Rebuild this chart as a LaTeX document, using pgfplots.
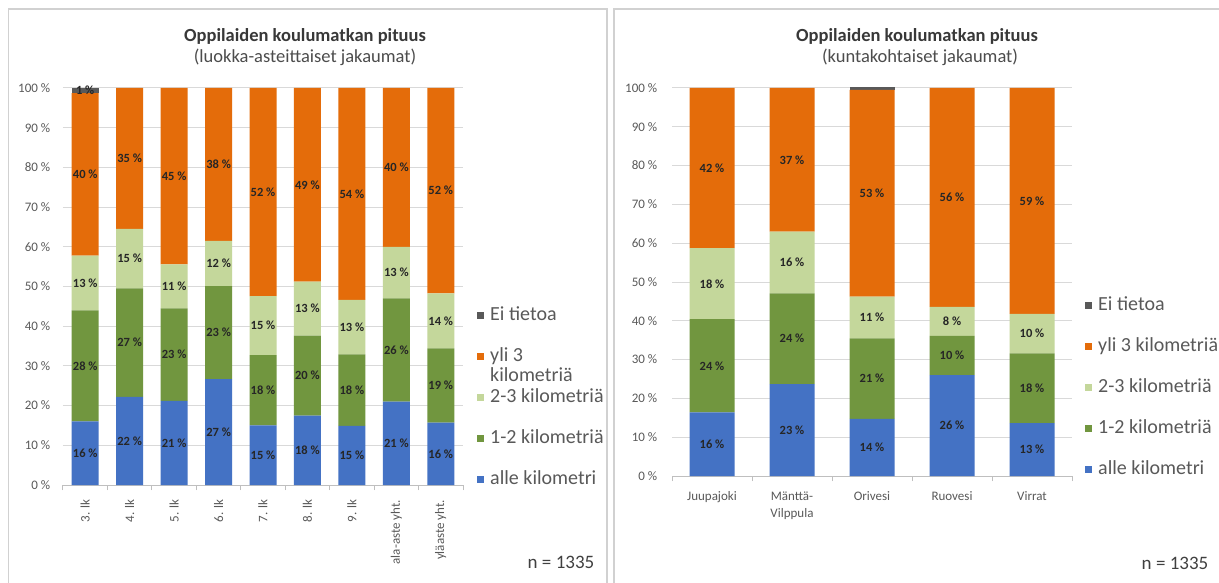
\documentclass[border=0pt]{standalone}
\usepackage{pgfplots}
\pgfplotsset{compat=1.18}
\usepackage{fontspec}
\setmainfont{Carlito}
\definecolor{cblue}{HTML}{4472C4}
\definecolor{cgreen}{HTML}{71963F}
\definecolor{clight}{HTML}{C4D79B}
\definecolor{corange}{HTML}{E46C0A}
\definecolor{cgray}{HTML}{595959}
\definecolor{ctext}{HTML}{595959}
\definecolor{cgrid}{HTML}{D9D9D9}
\def\zeroval{0}
\pgfplotsset{
  common/.style={
    scale only axis,
    ybar stacked,
    ymin=0, ymax=100,
    ytick={0,10,...,100},
    yticklabel={\pgfmathprintnumber{\tick}~\%},
    /pgf/number format/assume math mode=true,
    ymajorgrids, grid style={cgrid, line width=1pt},
    axis x line*=bottom, axis y line*=left,
    y axis line style={draw=none},
    x axis line style={draw=black!25, line width=1pt},
    ytick style={draw=none},
    xtick style={draw=none},
    minor x tick style={draw=black!25, line width=1pt},
    tick align=outside, minor tick length=5pt,
    ticklabel style={font=\fontsize{13}{16}\selectfont, text=ctext},
    xtick=data,
    point meta=explicit symbolic,
    nodes near coords={\ifx\pgfplotspointmeta\zeroval\else\pgfplotspointmeta~\%\fi},
    every node near coord/.append style={font=\bfseries\fontsize{12.5}{14}\selectfont, text=black!85, anchor=center},
    legend cell align=left,
    reverse legend,
    legend style={draw=none, fill=none, inner sep=0pt,
      font=\fontsize{20}{24}\selectfont, text=ctext,
      nodes={inner sep=0pt, text height=14pt, text depth=4pt},
      row sep=23pt,
      /tikz/every odd column/.style={column sep=6pt}},
    legend image code/.code={\path[#1] (0pt,-3.5pt) rectangle (7pt,3.5pt);},
  },
  sA/.style={fill=cblue, draw=none},
  sB/.style={fill=cgreen, draw=none},
  sC/.style={fill=clight, draw=none},
  sD/.style={fill=corange, draw=none},
  sE/.style={fill=cgray, draw=none},
}
\begin{document}
\begin{tikzpicture}[x=1pt,y=1pt]
\useasboundingbox (0,0) rectangle (1219,582);
\fill[white] (0,0) rectangle (1219,582);
% panel frames
\draw[black!18, line width=1.2pt] (8.5,-2) -- (8.5,573) -- (607,573) -- (607,-2);
\draw[black!18, line width=1.2pt] (614,-2) -- (614,573) -- (1222,573);
% titles
\node[font=\bfseries\fontsize{18.5}{22}\selectfont, text=black!78] at (305,546) {Oppilaiden koulumatkan pituus};
\node[font=\fontsize{18.5}{22}\selectfont, text=black!70] at (305,525) {(luokka-asteittaiset jakaumat)};
\node[font=\bfseries\fontsize{18.5}{22}\selectfont, text=black!78] at (917,546) {Oppilaiden koulumatkan pituus};
\node[font=\fontsize{18.5}{22}\selectfont, text=black!70] at (920,525) {(kuntakohtaiset jakaumat)};
\node[font=\fontsize{19}{22}\selectfont, text=black!75] at (561,20) {n = 1335};
\node[font=\fontsize{19}{22}\selectfont, text=black!75] at (1175,19) {n = 1335};

\begin{axis}[common,
  at={(63pt,97pt)}, anchor=south west,
  width=400pt, height=397pt,
  xmin=-0.5, xmax=8.5,
  bar width=27pt,
  minor xtick={-0.5,0.5,...,8.5},
  xticklabels={3. lk, 4. lk, 5. lk, 6. lk, 7. lk, 8. lk, 9. lk, ala-aste yht., yläaste yht.},
  xticklabel style={rotate=90, anchor=east},
  xticklabel shift=7pt,
  yticklabel shift=5pt,
  legend style={at={(1.035,0.451)}, anchor=north west},
]
\addplot+[sA] coordinates {(0,16)[16] (1,22.2)[22] (2,21.2)[21] (3,26.7)[27] (4,15)[15] (5,17.5)[18] (6,14.9)[15] (7,21)[21] (8,15.7)[16]};
\addlegendentry{alle kilometri}
\addplot+[sB] coordinates {(0,28)[28] (1,27.3)[27] (2,23.3)[23] (3,23.4)[23] (4,17.7)[18] (5,20.1)[20] (6,18)[18] (7,26)[26] (8,18.7)[19]};
\addlegendentry{1-2 kilometriä}
\addplot+[sC] coordinates {(0,13.8)[13] (1,15)[15] (2,11.1)[11] (3,11.4)[12] (4,14.9)[15] (5,13.6)[13] (6,13.7)[13] (7,13)[13] (8,13.9)[14]};
\addlegendentry{2-3 kilometriä}
\addplot+[sD] coordinates {(0,40.9)[40] (1,35.5)[35] (2,44.4)[45] (3,38.5)[38] (4,52.4)[52] (5,48.8)[49] (6,53.4)[54] (7,40)[40] (8,51.7)[52]};
\addlegendentry{\smash{\renewcommand\arraystretch{0.85}\begin{tabular}[t]{@{}l@{}}yli 3\\kilometriä\end{tabular}}}
\addplot+[sE] coordinates {(0,1.3)[1] (1,0)[0] (2,0)[0] (3,0)[0] (4,0)[0] (5,0)[0] (6,0)[0] (7,0)[0] (8,0)[0]};
\addlegendentry{Ei tietoa}
\end{axis}

\begin{axis}[common,
  at={(672pt,106pt)}, anchor=south west,
  width=400pt, height=388pt,
  xmin=-0.5, xmax=4.5,
  bar width=45pt,
  minor xtick={-0.5,0.5,...,4.5},
  xticklabels={Juupajoki, {Mänttä-\\Vilppula}, Orivesi, Ruovesi, Virrat},
  xticklabel style={align=center, font=\fontsize{13}{17}\selectfont},
  xticklabel shift=8pt,
  yticklabel shift=7pt,
  legend style={at={(1.0325,0.464)}, anchor=north west},
]
\addplot+[sA] coordinates {(0,16.4)[16] (1,23.7)[23] (2,14.7)[14] (3,26)[26] (4,13.6)[13]};
\addlegendentry{alle kilometri}
\addplot+[sB] coordinates {(0,24)[24] (1,23.4)[24] (2,20.8)[21] (3,10.1)[10] (4,18)[18]};
\addlegendentry{1-2 kilometriä}
\addplot+[sC] coordinates {(0,18.3)[18] (1,15.9)[16] (2,10.7)[11] (3,7.5)[8] (4,10.2)[10]};
\addlegendentry{2-3 kilometriä}
\addplot+[sD] coordinates {(0,41.3)[42] (1,37)[37] (2,53.3)[53] (3,56.4)[56] (4,58.2)[59]};
\addlegendentry{yli 3 kilometriä}
\addplot+[sE] coordinates {(0,0)[0] (1,0)[0] (2,0.8)[1] (3,0)[0] (4,0)[0]};
\addlegendentry{Ei tietoa}
\end{axis}
\end{tikzpicture}
\end{document}
